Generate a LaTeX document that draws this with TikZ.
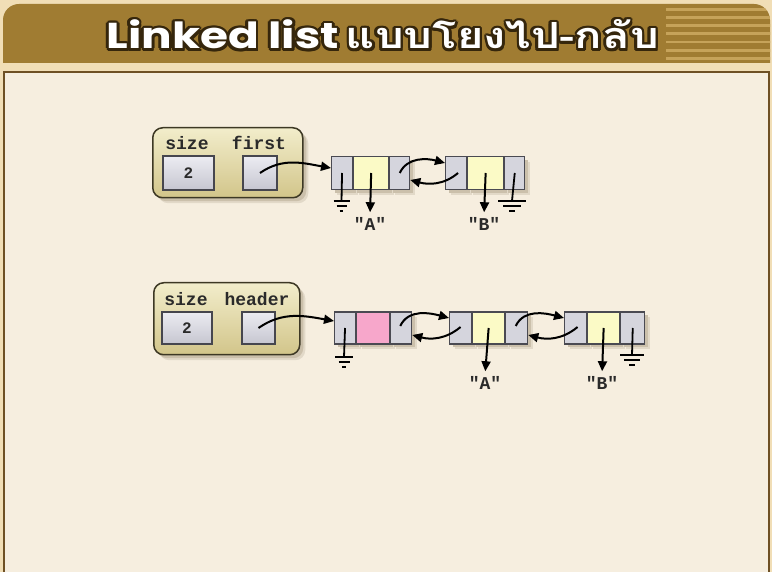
\documentclass[tikz,border=0pt]{standalone}
\usepackage{fontspec}
\usetikzlibrary{arrows.meta,shadows,calc}
\newfontfamily\monob{Liberation Mono}
\newfontfamily\thaib[Script=Thai]{Loma}
\newfontfamily\latb{Poppins}
\definecolor{pagebg}{HTML}{F1DEB6}
\definecolor{band}{HTML}{A07C32}
\definecolor{stripe}{HTML}{C6A35A}
\definecolor{content}{HTML}{F6EEDF}
\definecolor{framecol}{HTML}{6E5024}
\definecolor{titleline}{HTML}{35260C}
\definecolor{outerline}{HTML}{3D3824}
\definecolor{outertop}{HTML}{F2EDCB}
\definecolor{outerbot}{HTML}{D2C58A}
\definecolor{valtop}{HTML}{ECECF2}
\definecolor{valbot}{HTML}{C6C6D0}
\definecolor{valline}{HTML}{46464E}
\definecolor{cellgray}{HTML}{D5D5DD}
\definecolor{cellline}{HTML}{4A4A52}
\definecolor{cellyellow}{HTML}{FBFAC6}
\definecolor{cellpink}{HTML}{F7A7CB}
\definecolor{labtxt}{HTML}{2A2A2A}
\definecolor{shadowB}{HTML}{E2D9C8}
\definecolor{shadowA}{HTML}{CBC0AB}
\newcommand\ttltext{\scalebox{1.26}[1]{{\latb\bfseries Linked list}\hspace{0.15em}{\thaib\bfseries แบบโยงไป-กลับ}}}
\tikzset{
  softshadow/.style={
    drop shadow={shadow xshift=5.5pt, shadow yshift=-5.5pt, fill=shadowB, opacity=1},
    drop shadow={shadow xshift=3.5pt, shadow yshift=-3.5pt, fill=shadowA, opacity=1}},
  outerbox/.style={draw=outerline, line width=1.5pt, rounded corners=10pt,
    top color=outertop, bottom color=outerbot, anchor=north west, inner sep=0pt, softshadow},
  valbox/.style={draw=valline, line width=1.2pt, top color=valtop, bottom color=valbot,
    inner sep=0pt, text=labtxt, font=\monob\bfseries\fontsize{16}{16}\selectfont},
  gcell/.style={draw=cellline, line width=1.1pt, fill=cellgray, inner sep=0pt, anchor=west, softshadow},
  ycell/.style={gcell, fill=cellyellow},
  pcell/.style={gcell, fill=cellpink},
  lbl/.style={font=\monob\bfseries\fontsize{18}{18}\selectfont, text=labtxt, inner sep=1pt},
  ptr/.style={line width=2pt, -{Triangle[length=10pt,width=9pt]}},
  gndline/.style={line width=1.8pt},
  ttlfont/.style={font=\fontsize{36}{36}\selectfont, anchor=base east, inner sep=0pt}
}
\begin{document}
\begin{tikzpicture}[x=1pt,y=1pt]
\useasboundingbox (0,0) rectangle (772,-572);
\fill[pagebg] (0,0) rectangle (772,-572);
\fill[band] (3,-63) -- (3,-20) arc[start angle=180,end angle=90,radius=16]
   -- (754,-4) arc[start angle=90,end angle=0,radius=16] -- (770,-63) -- cycle;
\begin{scope}
  \clip (3,-63) -- (3,-20) arc[start angle=180,end angle=90,radius=16]
   -- (754,-4) arc[start angle=90,end angle=0,radius=16] -- (770,-63) -- cycle;
  \foreach \yy in {9.3,17.5,25.7,33.9,42.1,50.3,58.5}
    \fill[stripe] (666,-\yy+1.4) rectangle (772,-\yy-1.4);
\end{scope}
\fill[content] (4,-72) rectangle (769,-580);
\draw[framecol, line width=2pt] (4,-580) -- (4,-72) -- (769,-72) -- (769,-580);

% title
\node[ttlfont, text=titleline] (ttl-sh) at (661,-52) {\ttltext};
\foreach \a in {0,30,...,330}
  \node[ttlfont, text=titleline] (ttl-o\a) at ($(659,-49)+(\a:2.6pt)$) {\ttltext};
\node[ttlfont, text=white] (ttl) at (659,-49) {\ttltext};

% ---------- list 1 ----------
\node[outerbox, minimum width=150pt, minimum height=70pt] (h1) at (152,-127) {};
\node[lbl] (h1size) at (187,-143) {size};
\node[lbl] (h1first) at (259,-143) {first};
\node[valbox, minimum width=51pt, minimum height=34pt] (h1v) at (188.5,-173) {2};
\node[valbox, minimum width=34pt, minimum height=34pt] (h1p) at (260,-173) {};

\node[gcell, minimum width=21pt, minimum height=33pt] (a1) at (331,-173) {};
\node[ycell, minimum width=35pt, minimum height=33pt] (a2) at (a1.east) {};
\node[gcell, minimum width=20pt, minimum height=33pt] (a3) at (a2.east) {};
\node[gcell, minimum width=21pt, minimum height=33pt] (b1) at (445,-173) {};
\node[ycell, minimum width=36pt, minimum height=33pt] (b2) at (b1.east) {};
\node[gcell, minimum width=20pt, minimum height=33pt] (b3) at (b2.east) {};

\node[lbl] (la) at (370,-224) {"A"};
\node[lbl] (lb) at (484,-224) {"B"};
\draw[ptr, shorten >=4pt] (a2.center) -- (la.north);
\draw[ptr, shorten >=4pt] (b2.center) -- (lb.north);

\coordinate (g1) at (341.5,-201);
\coordinate (g2) at (512,-201);
\draw[gndline] (a1.center) -- (g1);
\draw[gndline] (g1) ++(-8,0) -- ++(16,0) (g1) ++(-5,-5) -- ++(10,0) (g1) ++(-1.8,-10) -- ++(3.6,0);
\draw[gndline] (b3.center) -- (g2);
\draw[gndline] (g2) ++(-14,0) -- ++(28,0) (g2) ++(-9,-5) -- ++(18,0) (g2) ++(-3,-10) -- ++(6,0);

\draw[ptr] (h1p.center) to[out=35,in=170] ($(a1.west)+(0,5)$);
\draw[ptr] (a3.center) to[out=65,in=165] ($(b1.west)+(0,10)$);
\draw[ptr] ($(b1.center)+(2,0)$) to[out=-140,in=-15] ($(a3.east)+(0,-7)$);

% ---------- list 2 ----------
\node[outerbox, minimum width=146pt, minimum height=72pt] (h2) at (153,-282) {};
\node[lbl] (h2size) at (186,-299) {size};
\node[lbl] (h2header) at (257,-299) {header};
\node[valbox, minimum width=50pt, minimum height=32pt] (h2v) at (187,-328) {2};
\node[valbox, minimum width=33pt, minimum height=32pt] (h2p) at (258.5,-328) {};

\node[gcell, minimum width=21pt, minimum height=32pt] (c1) at (334,-328) {};
\node[pcell, minimum width=33pt, minimum height=32pt] (c2) at (c1.east) {};
\node[gcell, minimum width=21pt, minimum height=32pt] (c3) at (c2.east) {};
\node[gcell, minimum width=22pt, minimum height=32pt] (d1) at (449,-328) {};
\node[ycell, minimum width=32pt, minimum height=32pt] (d2) at (d1.east) {};
\node[gcell, minimum width=22pt, minimum height=32pt] (d3) at (d2.east) {};
\node[gcell, minimum width=22pt, minimum height=32pt] (e1) at (564,-328) {};
\node[ycell, minimum width=32pt, minimum height=32pt] (e2) at (e1.east) {};
\node[gcell, minimum width=24pt, minimum height=32pt] (e3) at (e2.east) {};

\node[lbl] (ld) at (485,-383) {"A"};
\node[lbl] (le) at (602,-383) {"B"};
\draw[ptr, shorten >=4pt] (d2.center) -- (ld.north);
\draw[ptr, shorten >=4pt] (e2.center) -- (le.north);

\coordinate (g3) at (344,-357);
\coordinate (g4) at (632,-355);
\draw[gndline] (c1.center) -- (g3);
\draw[gndline] (g3) ++(-9,0) -- ++(18,0) (g3) ++(-5.5,-5) -- ++(11,0) (g3) ++(-2,-10) -- ++(4,0);
\draw[gndline] (e3.center) -- (g4);
\draw[gndline] (g4) ++(-12,0) -- ++(24,0) (g4) ++(-8,-5) -- ++(16,0) (g4) ++(-3,-10) -- ++(6,0);

\draw[ptr] (h2p.center) to[out=35,in=170] ($(c1.west)+(0,7)$);
\draw[ptr] ($(c3.center)+(-1,2)$) to[out=65,in=165] ($(d1.west)+(0,10)$);
\draw[ptr] ($(d1.center)+(0,1)$) to[out=-140,in=-15] ($(c3.east)+(0,-7)$);
\draw[ptr] ($(d3.center)+(-1,2)$) to[out=65,in=165] ($(e1.west)+(0,10)$);
\draw[ptr] ($(e1.center)+(2,1)$) to[out=-140,in=-15] ($(d3.east)+(0,-7)$);
\end{tikzpicture}
\end{document}
